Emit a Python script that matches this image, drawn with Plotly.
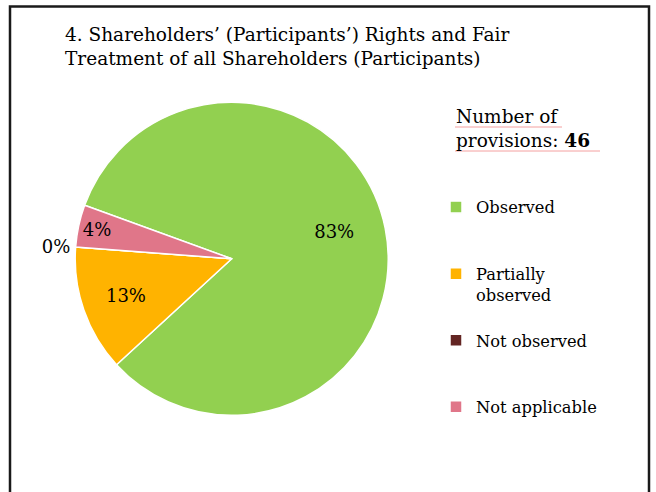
import plotly.graph_objects as go

# ---- data ----
categories = ["Observed", "Partially observed", "Not observed", "Not applicable"]
counts = [38, 6, 0, 2]
colors = ["#92D050", "#FFB300", "#632523", "#E07689"]
title_text = "4. Shareholders’ (Participants’) Rights and Fair<br>Treatment of all Shareholders (Participants)"
legend_labels = ["Observed<br>\u00a0<br>\u00a0", "Partially<br>observed<br>\u00a0",
                 "Not observed<br>\u00a0<br>\u00a0", "Not applicable<br>\u00a0<br>\u00a0"]

W, H = 656, 492
FONT = "DejaVu Serif"

cx, cy, r = 231.7, 258.8, 156.5
dom_x = [(cx - r) / W, (cx + r) / W]
dom_y = [(H - cy - r) / H, (H - cy + r) / H]

pct = "%{percent:.0%}"
text_templates = ["\u00a0" * 9 + pct + "<br>\u00a0", pct, pct, pct]

fig = go.Figure()
fig.add_trace(go.Pie(
    labels=legend_labels,
    values=counts,
    sort=False,
    direction="clockwise",
    rotation=-70,
    marker=dict(colors=colors, line=dict(color="white", width=1.5)),
    texttemplate=text_templates,
    textposition=["inside", "inside", "outside", "inside"],
    insidetextorientation="horizontal",
    textfont=dict(family=FONT, size=18, color="black"),
    outsidetextfont=dict(family=FONT, size=18, color="black"),
    domain=dict(x=dom_x, y=dom_y),
    showlegend=True,
    hovertext=categories,
    hoverinfo="text+value+percent",
))

fig.update_layout(
    width=W, height=H,
    margin=dict(l=0, r=0, t=0, b=0),
    paper_bgcolor="white",
    plot_bgcolor="white",
    font=dict(family=FONT, color="black"),
    title=dict(text=title_text, x=65 / W, xanchor="left", xref="paper",
               y=1 - 41 / H, yanchor="top", yref="container",
               font=dict(family=FONT, size=18.5, color="black")),
    legend=dict(x=436 / W, xanchor="left", y=1 - 190 / H, yanchor="top",
                valign="top", font=dict(family=FONT, size=16.3, color="black"),
                bgcolor="rgba(0,0,0,0)", traceorder="normal"),
    annotations=[dict(
        text="Number of<br>provisions: <b>%d</b>" % sum(counts),
        x=454 / W, y=1 - 104 / H, xref="paper", yref="paper",
        xanchor="left", yanchor="top", align="left", showarrow=False,
        font=dict(family=FONT, size=18.5, color="black"),
    )],
    shapes=[
        dict(type="rect", xref="paper", yref="paper",
             x0=10 / W, x1=649 / W, y0=-0.02, y1=1 - 6.5 / H,
             line=dict(color="#1a1a1a", width=2.5), fillcolor="rgba(0,0,0,0)"),
        dict(type="line", xref="paper", yref="paper",
             x0=455 / W, x1=562 / W, y0=1 - 127 / H, y1=1 - 127 / H,
             line=dict(color="#F4A0A0", width=1)),
        dict(type="line", xref="paper", yref="paper",
             x0=455 / W, x1=600 / W, y0=1 - 151 / H, y1=1 - 151 / H,
             line=dict(color="#F4A0A0", width=1)),
    ],
)

fig.write_html("out.html", config={"displayModeBar": False},
               post_script="document.body.style.margin='0px';")
